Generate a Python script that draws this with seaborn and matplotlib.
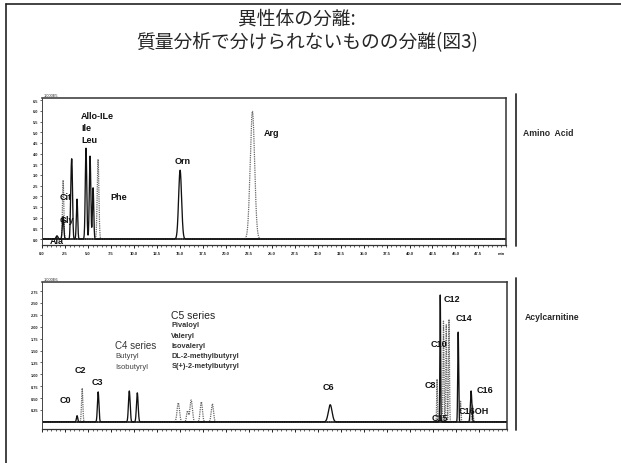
import numpy as np
import pandas as pd
import seaborn as sns
import matplotlib
matplotlib.use("Agg")
import matplotlib.pyplot as plt
from matplotlib.ticker import MultipleLocator

sns.set_theme(style="white")
plt.rcParams["font.family"] = ["Liberation Sans", "DejaVu Sans"]

# ---- Amino acid chromatogram: peak retention time (min), height, width (sigma), trace
aa_names = ["Ala", "Gly", "Cit", "p3a", "p3b", "p4", "Allo-Ile", "Ile", "Leu", "Phe", "Orn", "Arg"]
aa_rt = [1.63, 2.29, 2.30, 3.16, 3.27, 3.81, 4.79, 5.23, 5.56, 6.10, 15.03, 22.90]
aa_height = [0.15, 1.05, 2.76, 2.20, 2.85, 1.87, 4.25, 3.88, 2.40, 3.74, 3.22, 5.98]
aa_sigma = [0.10, 0.08, 0.07, 0.07, 0.07, 0.07, 0.08, 0.08, 0.07, 0.09, 0.16, 0.24]
aa_trace = ["solid", "solid", "dotted", "solid", "solid", "solid", "solid", "solid", "solid",
            "dotted", "solid", "dotted"]

# ---- Acylcarnitine chromatogram
ac_names = ["C0", "C2", "C3", "Butyryl", "Isobutyryl", "Pivaloyl", "Valeryl", "Isovaleryl",
            "DL-2-methylbutyryl", "S(+)-2-methylbutyryl", "C6", "C8", "C12", "C10", "C10b",
            "C14a", "C14", "C15", "C16", "C16OH"]
ac_rt = [3.81, 4.36, 6.10, 9.48, 10.35, 14.80, 15.80, 16.20, 17.30, 18.50, 31.30, 42.90,
         43.25, 43.60, 43.90, 44.20, 45.20, 45.45, 46.60, 46.75]
ac_height = [0.13, 0.71, 0.63, 0.65, 0.61, 0.40, 0.23, 0.46, 0.42, 0.38, 0.36, 0.90,
             2.67, 2.12, 2.04, 2.16, 1.89, 0.45, 0.65, 0.35]
ac_sigma = [0.07, 0.07, 0.08, 0.09, 0.09, 0.13, 0.10, 0.13, 0.12, 0.12, 0.20, 0.04,
            0.04, 0.05, 0.05, 0.05, 0.05, 0.05, 0.08, 0.07]
ac_trace = ["solid", "dotted", "solid", "solid", "solid", "dotted", "dotted", "dotted",
            "dotted", "dotted", "solid", "dotted", "solid", "dotted", "dotted", "dotted",
            "solid", "dotted", "solid", "dotted"]

aa_ticks = np.arange(0, 50, 2.5)
aa_ticklabels = [f"{v:.1f}" for v in aa_ticks]
aa_yticks = np.arange(0, 6.6, 0.5)
ac_yticks = np.arange(0.25, 2.8, 0.25)

STYLE = {"solid": dict(color="#111111", linestyle="-", linewidth=0.95),
         "dotted": dict(color="#666666", linestyle=(0, (1, 0.8)), linewidth=0.9)}


def traces(rt, height, sigma, trace):
    t = np.linspace(0, 50.5, 6000)
    rows = []
    for kind in ["dotted", "solid"]:
        y = np.zeros_like(t)
        for r, h, s, k in zip(rt, height, sigma, trace):
            if k == kind:
                y += h * np.exp(-0.5 * ((t - r) / s) ** 2)
        rows.append(pd.DataFrame({"time": t, "intensity": y, "trace": kind}))
    return pd.concat(rows, ignore_index=True)


fig = plt.figure(figsize=(6.21, 4.64), dpi=100)

# slide border
fig.add_artist(plt.Line2D([6 / 621, 6 / 621], [0, 1 - 5 / 464], transform=fig.transFigure,
                          color="#222222", lw=1.2))
fig.add_artist(plt.Line2D([6 / 621, 1], [1 - 5 / 464, 1 - 5 / 464], transform=fig.transFigure,
                          color="#222222", lw=1.2))

cjk = ["Noto Sans CJK JP", "DejaVu Sans"]
fig.text(0.478, 1 - 19 / 464, "異性体の分離:", ha="center", va="center", fontsize=13.5, family=cjk)
fig.text(0.495, 1 - 43 / 464, "質量分析で分けられないものの分離(図3)", ha="center", va="center",
         fontsize=13.5, family=cjk)


def style_axes(ax, ylim, yticks, yfmt, xlabels):
    ax.set_xlim(0, 50.5)
    ax.set_ylim(*ylim)
    ax.set_xlabel("")
    ax.set_ylabel("")
    if ax.get_legend():
        ax.get_legend().remove()
    for s in ["top", "right"]:
        ax.spines[s].set_color("#333333")
        ax.spines[s].set_linewidth(1.1)
    ax.spines["left"].set_linestyle((0, (1, 1)))
    ax.spines["left"].set_linewidth(0.7)
    ax.spines["left"].set_color("#444444")
    ax.spines["bottom"].set_color("#333333")
    ax.spines["bottom"].set_linewidth(0.9)
    ax.set_xticks(aa_ticks)
    ax.xaxis.set_minor_locator(MultipleLocator(0.5))
    if xlabels:
        ax.set_xticklabels(aa_ticklabels, fontsize=3, fontweight="bold")
    else:
        ax.set_xticklabels([])
    ax.set_yticks(yticks)
    ax.set_yticklabels([yfmt.format(v) for v in yticks], fontsize=2.8, fontweight="bold")
    ax.tick_params(axis="x", which="major", direction="out", length=2.5, width=0.7, pad=1.5,
                   colors="#222222", bottom=True)
    ax.tick_params(axis="x", which="minor", direction="out", length=1.3, width=0.5, bottom=True,
                   colors="#222222")
    ax.tick_params(axis="y", direction="out", length=1.5, width=0.5, pad=1, colors="#222222",
                   left=True)
    ax.axhline(0, color="#111111", lw=1.3, zorder=1)


# ---- top: amino acids
ax1 = fig.add_axes([42 / 621, 1 - 246 / 464, 464 / 621, 147 / 464])
df1 = traces(aa_rt, aa_height, aa_sigma, aa_trace)
for kind in ["dotted", "solid"]:
    sns.lineplot(data=df1[df1.trace == kind], x="time", y="intensity", ax=ax1,
                 estimator=None, **STYLE[kind])
style_axes(ax1, (-0.28, 6.6), aa_yticks, "{:.1f}", True)
ax1.text(50.0, -0.55, "min", fontsize=3, fontweight="bold", ha="center", va="top")
ax1.text(0.2, 6.66, "1.000E5", fontsize=2.8, ha="left", va="bottom")

lab = dict(fontsize=6.5, fontweight="bold", color="#111111")
ax1.text(4.25, 5.79, "Allo-ILe", va="center", **lab)
ax1.text(4.25, 5.23, "Ile", va="center", **lab)
ax1.text(4.25, 4.67, "Leu", va="center", **lab)
ax1.text(7.4, 2.0, "Phe", va="center", **lab)
ax1.text(14.4, 3.69, "Orn", va="center", **lab)
ax1.text(24.1, 5.0, "Arg", va="center", **lab)
ax1.text(1.96, 2.0, "Cit", va="center", **lab)
ax1.text(1.96, 0.93, "Gly", va="center", **lab)
ax1.text(0.87, -0.05, "Ala", va="center", **lab)

# ---- bottom: acylcarnitines
ax2 = fig.add_axes([42 / 621, 1 - 430 / 464, 465 / 621, 147 / 464])
df2 = traces(ac_rt, ac_height, ac_sigma, ac_trace)
for kind in ["dotted", "solid"]:
    sns.lineplot(data=df2[df2.trace == kind], x="time", y="intensity", ax=ax2,
                 estimator=None, **STYLE[kind])
style_axes(ax2, (-0.15, 2.94), ac_yticks, "{:.2f}", False)
ax2.text(0.2, 2.97, "1.000E6", fontsize=2.8, ha="left", va="bottom")

ax2.text(2.5, 0.48, "C0", ha="center", va="center", **lab)
ax2.text(4.14, 1.11, "C2", ha="center", va="center", **lab)
ax2.text(6.0, 0.84, "C3", ha="center", va="center", **lab)
ax2.text(7.95, 1.62, "C4 series", ha="left", va="center", fontsize=7, color="#333333")
ax2.text(7.95, 1.39, "Butyryl", ha="left", va="center", fontsize=5.5, color="#444444")
ax2.text(7.95, 1.16, "Isobutyryl", ha="left", va="center", fontsize=5.5, color="#444444")
ax2.text(14.05, 2.25, "C5 series", ha="left", va="center", fontsize=7.5, color="#222222")
c5_lines = ["Pivaloyl", "Valeryl", "Isovaleryl", "DL-2-methylbutyryl", "S(+)-2-metylbutyryl"]
for i, name in enumerate(c5_lines):
    ax2.text(14.05, 2.04 - i * 0.215, name, ha="left", va="center", fontsize=5.3,
             fontweight="bold", color="#333333")
ax2.text(31.15, 0.74, "C6", ha="center", va="center", **lab)
ax2.text(43.6, 2.6, "C12", ha="left", va="center", **lab)
ax2.text(44.9, 2.2, "C14", ha="left", va="center", **lab)
ax2.text(42.2, 1.64, "C10", ha="left", va="center", **lab)
ax2.text(41.5, 0.78, "C8", ha="left", va="center", **lab)
ax2.text(47.2, 0.69, "C16", ha="left", va="center", **lab)
ax2.text(45.3, 0.23, "C16OH", ha="left", va="center", **lab)
ax2.text(42.3, 0.1, "C15", ha="left", va="center", **lab)

# separators and panel names
for y0, y1 in [(95, 247), (279, 431)]:
    fig.add_artist(plt.Line2D([516 / 621, 516 / 621], [1 - y1 / 464, 1 - y0 / 464],
                              transform=fig.transFigure, color="#333333", lw=1.3))
fig.text(523 / 621, 1 - 133 / 464, "Amino  Acid", fontsize=6.2, fontweight="bold",
         ha="left", va="center")
fig.text(525 / 621, 1 - 317 / 464, "Acylcarnitine", fontsize=6.2, fontweight="bold",
         ha="left", va="center")

fig.savefig("out.png", dpi=100)
